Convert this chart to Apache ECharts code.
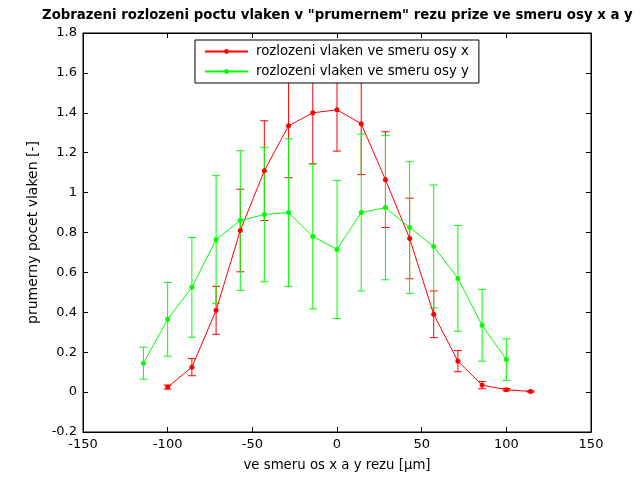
<!DOCTYPE html>
<html>
<head>
<meta charset="utf-8">
<script src="https://cdn.jsdelivr.net/npm/echarts@6/dist/echarts.min.js"></script>
<style>html,body{margin:0;padding:0;background:#fff}#c{width:641px;height:478px}</style>
</head>
<body>
<div id="c"></div>
<script>
// Data
var redX = [-100, -85.7, -71.4, -57.1, -42.9, -28.6, -14.3, 0, 14.3, 28.6, 42.9, 57.1, 71.4, 85.7, 100, 114.3];
var redMean = [0.025, 0.125, 0.41, 0.81, 1.11, 1.335, 1.40, 1.415, 1.345, 1.065, 0.77, 0.39, 0.155, 0.035, 0.012, 0.003];
var redErr = [0.01, 0.043, 0.12, 0.207, 0.25, 0.26, 0.255, 0.207, 0.255, 0.24, 0.202, 0.117, 0.053, 0.018, 0.006, 0.003];

var greenX = [-114.3, -100, -85.7, -71.4, -57.1, -42.9, -28.6, -14.3, 0, 14.3, 28.6, 42.9, 57.1, 71.4, 85.7, 100];
var greenMean = [0.145, 0.365, 0.525, 0.765, 0.86, 0.89, 0.90, 0.78, 0.715, 0.90, 0.925, 0.825, 0.73, 0.57, 0.335, 0.163];
var greenErr = [0.08, 0.185, 0.25, 0.32, 0.35, 0.337, 0.37, 0.363, 0.346, 0.393, 0.362, 0.33, 0.308, 0.265, 0.18, 0.104];

var seriesNames = ['rozlozeni vlaken ve smeru osy x', 'rozlozeni vlaken ve smeru osy y'];
var titleText = 'Zobrazeni rozlozeni poctu vlaken v "prumernem" rezu prize ve smeru osy x a y';
var xName = 've smeru os x a y rezu [\u00b5m]';
var yName = 'prumerny pocet vlaken [-]';

function pairs(xs, ys) { return xs.map(function (x, i) { return [x, ys[i]]; }); }
function errData(xs, m, e) { return xs.map(function (x, i) { return [x, m[i] - e[i], m[i] + e[i]]; }); }

function errRender(color) {
  return function (params, api) {
    var x = api.value(0);
    var lo = api.coord([x, api.value(1)]);
    var hi = api.coord([x, api.value(2)]);
    var h = 4;
    var st = { stroke: color, lineWidth: 1 };
    return {
      type: 'group',
      children: [
        { type: 'line', shape: { x1: lo[0], y1: lo[1], x2: hi[0], y2: hi[1] }, style: st },
        { type: 'line', shape: { x1: hi[0] - h, y1: hi[1], x2: hi[0] + h, y2: hi[1] }, style: st },
        { type: 'line', shape: { x1: lo[0] - h, y1: lo[1], x2: lo[0] + h, y2: lo[1] }, style: st }
      ]
    };
  };
}

var font = 'DejaVu Sans, sans-serif';
var chart = echarts.init(document.getElementById('c'), null, { renderer: 'canvas' });
var axisCommon = {
  axisLine: { show: true, onZero: false, lineStyle: { color: '#000', width: 1 } },
  axisTick: { show: true, inside: true, length: 5, lineStyle: { color: '#000' } },
  splitLine: { show: false }
};
chart.setOption({
  backgroundColor: '#fff',
  animation: false,
  title: {
    text: titleText, left: 37, top: 4,
    textStyle: { fontFamily: font, fontSize: 13.3, fontWeight: 'bold', color: '#000' }
  },
  legend: {
    data: seriesNames,
    orient: 'vertical',
    left: 195, top: 40,
    padding: [5, 10, 5, 9],
    itemGap: 7,
    itemWidth: 43, itemHeight: 6,
    backgroundColor: '#fff',
    borderColor: '#000', borderWidth: 1, borderRadius: 0,
    textStyle: { fontFamily: font, fontSize: 13.3, color: '#000', padding: [0, 0, 0, 3] }
  },
  grid: { left: 83, right: 50, top: 33, bottom: 46, show: true, borderColor: '#000', borderWidth: 1, backgroundColor: '#fff' },
  xAxis: [
    Object.assign({
      type: 'value', min: -150, max: 150, interval: 50, position: 'bottom',
      name: xName, nameLocation: 'middle', nameGap: 27,
      nameTextStyle: { fontFamily: font, fontSize: 13.3, color: '#000' },
      axisLabel: { fontFamily: font, fontSize: 13, color: '#000', margin: 6 }
    }, axisCommon),
    Object.assign({
      type: 'value', min: -150, max: 150, interval: 50, position: 'top',
      axisLabel: { show: false }
    }, axisCommon)
  ],
  yAxis: [
    Object.assign({
      type: 'value', min: -0.2, max: 1.8, interval: 0.2, position: 'left',
      name: yName, nameLocation: 'middle', nameGap: 40,
      nameTextStyle: { fontFamily: font, fontSize: 14, color: '#000' },
      axisLabel: { fontFamily: font, fontSize: 13, color: '#000', margin: 6,
        formatter: function (v) { return String(Math.round(v * 10) / 10); } }
    }, axisCommon),
    Object.assign({
      type: 'value', min: -0.2, max: 1.8, interval: 0.2, position: 'right',
      axisLabel: { show: false }
    }, axisCommon)
  ],
  series: [
    {
      name: 'errX', type: 'custom', xAxisIndex: 0, yAxisIndex: 0, z: 2,
      renderItem: errRender('#ff0000'), data: errData(redX, redMean, redErr), clip: true
    },
    {
      name: 'errY', type: 'custom', xAxisIndex: 0, yAxisIndex: 0, z: 2,
      renderItem: errRender('#00ff00'), data: errData(greenX, greenMean, greenErr), clip: true
    },
    {
      name: seriesNames[0], type: 'line', data: pairs(redX, redMean), z: 3,
      symbol: 'circle', symbolSize: 5, color: '#ff0000',
      lineStyle: { width: 1, color: '#ff0000' }, itemStyle: { color: '#ff0000' }
    },
    {
      name: seriesNames[1], type: 'line', data: pairs(greenX, greenMean), z: 3,
      symbol: 'circle', symbolSize: 5, color: '#00ff00',
      lineStyle: { width: 1, color: '#00ff00' }, itemStyle: { color: '#00ff00' }
    }
  ]
});
</script>
</body>
</html>
